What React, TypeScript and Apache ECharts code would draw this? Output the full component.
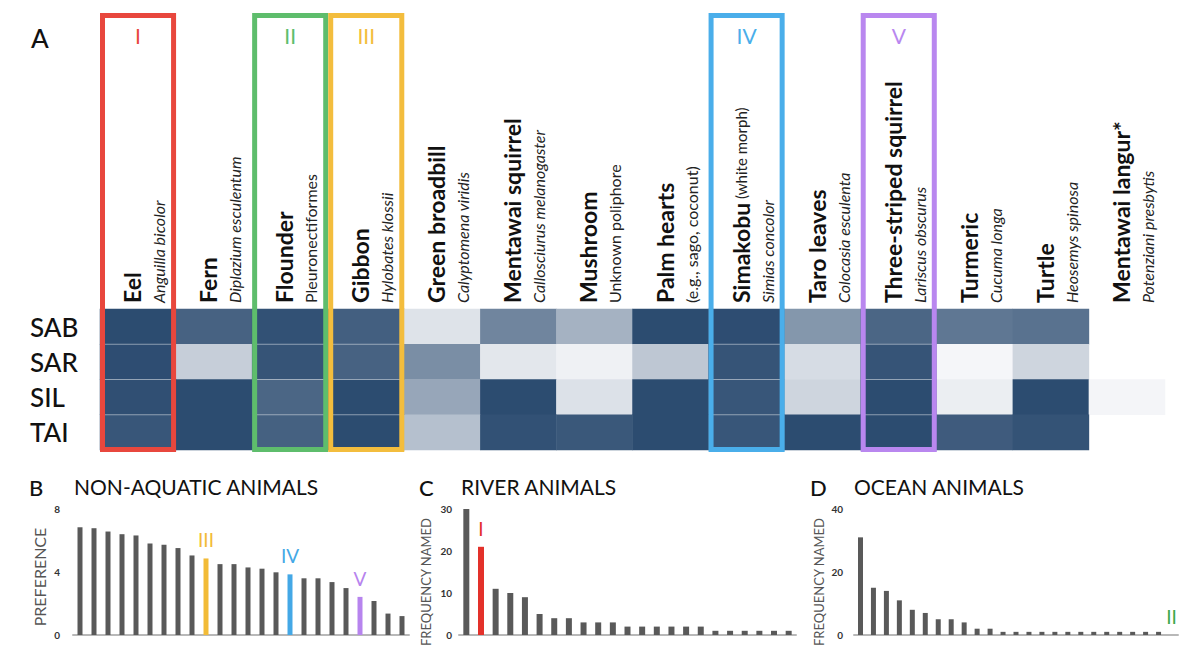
import React, { useEffect, useRef } from 'react';
import * as echarts from 'echarts';

const FONT = 'Lato, "Noto Sans", sans-serif';

// ---- Panel A: heatmap ----
const commonNames = [
  'Eel', 'Fern', 'Flounder', 'Gibbon', 'Green broadbill', 'Mentawai squirrel', 'Mushroom',
  'Palm hearts', 'Simakobu', 'Taro leaves', 'Three-striped squirrel', 'Turmeric', 'Turtle', 'Mentawai langur*',
];
const sciNames = [
  'Anguilla bicolor', 'Diplazium esculentum', 'Pleuronectiformes', 'Hylobates klossii', 'Calyptomena viridis',
  'Callosciurus melanogaster', 'Unknown poliphore', '(e.g., sago, coconut)', 'Simias concolor', 'Colocasia esculenta',
  'Lariscus obscurus', 'Cucuma longa', 'Heosemys spinosa', 'Potenziani presbytis',
];
const plainSciIdx = [2, 6, 7];
const noteIdx = 8;
const noteText = '(white morph)';
const sites = ['SAB', 'SAR', 'SIL', 'TAI'];
const sabValues = [0.99, 0.86, 0.96, 0.88, 0.12, 0.66, 0.4, 0.99, 0.98, 0.56, 0.84, 0.74, 0.77, null];
const sarValues = [0.98, 0.24, 0.94, 0.86, 0.61, 0.1, 0.04, 0.28, 0.94, 0.16, 0.94, 0.01, 0.2, null];
const silValues = [0.97, 0.99, 0.84, 0.99, 0.47, 0.99, 0.13, 0.99, 0.93, 0.2, 0.99, 0.06, 0.99, 0.015];
const taiValues = [0.93, 0.99, 0.87, 0.99, 0.32, 0.96, 0.92, 0.99, 0.93, 0.99, 0.99, 0.9, 0.95, null];

const boxColumns = [0, 2, 3, 8, 10];
const boxNumerals = ['I', 'II', 'III', 'IV', 'V'];
const boxColors = ['#e8473d', '#5ebd6c', '#f3bd3d', '#4aaeea', '#b987ef'];

// ---- Panels B-D: ranked bars ----
const nonAquaticPref = [6.84, 6.78, 6.57, 6.4, 6.32, 5.81, 5.73, 5.52, 5.05, 4.86, 4.5, 4.5, 4.29, 4.21, 3.98, 3.85, 3.6, 3.6, 3.36, 2.98, 2.42, 2.16, 1.36, 1.2];
const riverFreq = [30, 21, 11, 10, 9, 5, 4, 4, 3, 3, 3, 2, 2, 2, 2, 2, 2, 1, 1, 1, 1, 1, 1];
const oceanFreq = [31, 15, 14, 11, 8, 7, 5, 5, 4, 2, 2, 1, 1, 1, 1, 1, 1, 1, 1, 1, 1, 1, 1, 1, 0];

const nonAquaticMarks = [
  { index: 9, label: 'III', color: '#f2bb37' },
  { index: 15, label: 'IV', color: '#44a8e6' },
  { index: 20, label: 'V', color: '#b784ee' },
];
const riverMarks = [{ index: 1, label: 'I', color: '#e3312a' }];
const oceanMarks = [{ index: 24, label: 'II', color: '#3da84c' }];

const BAR_GRAY = '#595959';

function barData(values: number[], marks: { index: number; label: string; color: string }[]) {
  return values.map((v, i) => {
    const m = marks.find((k) => k.index === i);
    if (!m) return v;
    return {
      value: v,
      itemStyle: { color: m.color },
      label: {
        show: true,
        position: 'top',
        distance: 9,
        formatter: m.label,
        color: m.color,
        fontSize: 19,
        fontWeight: 400,
        fontFamily: FONT,
      },
    };
  });
}

function valueAxis(gridIndex: number, max: number, interval: number, name: string, nameGap: number, margin: number, nameSize: number, shift: number) {
  return {
    type: 'value',
    gridIndex,
    min: 0,
    max,
    interval,
    splitLine: { show: false },
    axisLine: { show: false },
    axisTick: { show: false },
    axisLabel: { fontSize: 10, color: '#333', fontWeight: 'bold', margin, fontFamily: FONT },
    name,
    nameLocation: 'middle',
    nameGap,
    nameTextStyle: { fontSize: nameSize, color: '#555', fontFamily: FONT, padding: [0, shift * 2, 0, 0] },
  };
}

function catAxis(gridIndex: number, n: number) {
  return {
    type: 'category',
    gridIndex,
    data: Array.from({ length: n }, (_, i) => String(i + 1)),
    axisLine: { lineStyle: { color: '#b8b8b8', width: 2 } },
    axisTick: { show: false },
    axisLabel: { show: false },
  };
}

function titleText(text: string, left: number, top: number, size: number, weight: any = 400) {
  return { text, left, top, padding: 0, textStyle: { fontSize: size, fontWeight: weight, color: '#111', fontFamily: FONT } };
}

export default function App() {
  const ref = useRef<HTMLDivElement>(null);

  useEffect(() => {
    document.body.style.margin = '0';
    const chart = echarts.init(ref.current!, null, { renderer: 'svg', width: 1200, height: 656 });

    const rows = [sabValues, sarValues, silValues, taiValues];
    const heatData: any[] = [];
    rows.forEach((row, r) => {
      row.forEach((v, c) => {
        if (v !== null) heatData.push([c, r, v]);
      });
    });

    const option: any = {
      animation: false,
      backgroundColor: '#ffffff',
      textStyle: { fontFamily: FONT },
      title: [
        titleText('A', 31, 25, 26, 500),
        titleText('B', 29, 476, 22, 500),
        titleText('NON-AQUATIC ANIMALS', 74, 476, 21),
        titleText('C', 419, 476, 22, 500),
        titleText('RIVER ANIMALS', 461, 476, 21),
        titleText('D', 810, 476, 22, 500),
        titleText('OCEAN ANIMALS', 854, 476, 21),
      ],
      grid: [
        { left: 100, width: 1065, top: 309, height: 141 },
        { left: 73, width: 336, top: 509, height: 126 },
        { left: 459, width: 337, top: 509, height: 126 },
        { left: 854, width: 324, top: 509, height: 126 },
      ],
      xAxis: [
        {
          type: 'category',
          gridIndex: 0,
          position: 'top',
          data: commonNames,
          axisLine: { show: false },
          axisTick: { show: false },
          splitLine: { show: false },
          axisLabel: {
            interval: 0,
            rotate: -90,
            margin: 6,
            padding: [14, 0, 0, 0],
            formatter: (value: string, idx: number) => {
              let first = `{a|${value}}`;
              if (idx === noteIdx) first += `{n| ${noteText}}`;
              const style = plainSciIdx.includes(idx) ? 'r' : 'b';
              return `${first}\n{${style}|${sciNames[idx]}}`;
            },
            rich: {
              a: { fontSize: 23, fontWeight: 'bold', color: '#111', fontFamily: FONT, lineHeight: 27 },
              n: { fontSize: 15, color: '#222', fontFamily: FONT, lineHeight: 27 },
              b: { fontSize: 16, fontStyle: 'italic', color: '#222', fontFamily: FONT, lineHeight: 26 },
              r: { fontSize: 16, color: '#222', fontFamily: FONT, lineHeight: 26 },
            },
          },
        },
        catAxis(1, nonAquaticPref.length),
        catAxis(2, riverFreq.length),
        catAxis(3, oceanFreq.length),
      ],
      yAxis: [
        {
          type: 'category',
          gridIndex: 0,
          data: sites,
          inverse: true,
          axisLine: { show: false },
          axisTick: { show: false },
          splitLine: { show: false },
          axisLabel: { align: 'left', margin: 70, fontSize: 26, fontWeight: 500, color: '#111', fontFamily: FONT },
        },
        valueAxis(1, 8, 4, 'PREFERENCE', 26, 13, 16, 5),
        valueAxis(2, 30, 10, 'FREQUENCY NAMED', 27, 7, 13, 10),
        valueAxis(3, 40, 20, 'FREQUENCY NAMED', 29, 11, 13, 10),
      ],
      visualMap: {
        show: false,
        min: 0,
        max: 1,
        dimension: 2,
        seriesIndex: 0,
        inRange: { color: ['#f7f8fa', '#2a4a6f'] },
      },
      series: [
        {
          type: 'heatmap',
          xAxisIndex: 0,
          yAxisIndex: 0,
          data: heatData,
          itemStyle: { borderWidth: 0 },
          emphasis: { disabled: true },
        },
        {
          type: 'custom',
          xAxisIndex: 0,
          yAxisIndex: 0,
          data: boxColumns.map((c) => [c, 0]),
          z: 5,
          renderItem: (params: any, api: any) => {
            const i = params.dataIndex;
            const col = api.value(0);
            const cx = api.coord([col, 0])[0];
            const w = api.size([1, 0])[0];
            const rowH = api.size([0, 1])[1];
            const cs = params.coordSys;
            const top = cs.y - 293.5;
            const bottom = cs.y + cs.height - 0.5;
            const children: any[] = [];
            for (let r = 1; r < sites.length; r++) {
              const y = cs.y + rowH * r;
              children.push({
                type: 'line',
                shape: { x1: cx - w / 2 + 4, y1: y, x2: cx + w / 2 - 4, y2: y },
                style: { stroke: 'rgba(255,255,255,0.45)', lineWidth: 1 },
              });
            }
            children.push({
              type: 'rect',
              shape: { x: cx - w / 2 + 2.5, y: top, width: w - 5, height: bottom - top },
              style: { fill: 'none', stroke: boxColors[i], lineWidth: 5 },
            });
            children.push({
              type: 'text',
              x: cx,
              y: top + 20,
              style: {
                text: boxNumerals[i],
                fill: boxColors[i],
                fontSize: 21,
                fontWeight: 400,
                fontFamily: FONT,
                align: 'center',
                verticalAlign: 'middle',
              },
            });
            return { type: 'group', children };
          },
        },
        {
          type: 'bar',
          xAxisIndex: 1,
          yAxisIndex: 1,
          barWidth: 5,
          itemStyle: { color: BAR_GRAY },
          data: barData(nonAquaticPref, nonAquaticMarks),
        },
        {
          type: 'bar',
          xAxisIndex: 2,
          yAxisIndex: 2,
          barWidth: 6,
          itemStyle: { color: BAR_GRAY },
          data: barData(riverFreq, riverMarks),
        },
        {
          type: 'bar',
          xAxisIndex: 3,
          yAxisIndex: 3,
          barWidth: 5,
          itemStyle: { color: BAR_GRAY },
          data: barData(oceanFreq, oceanMarks),
        },
      ],
    };

    chart.setOption(option);
    return () => chart.dispose();
  }, []);

  return <div ref={ref} style={{ width: 1200, height: 656 }} />;
}
